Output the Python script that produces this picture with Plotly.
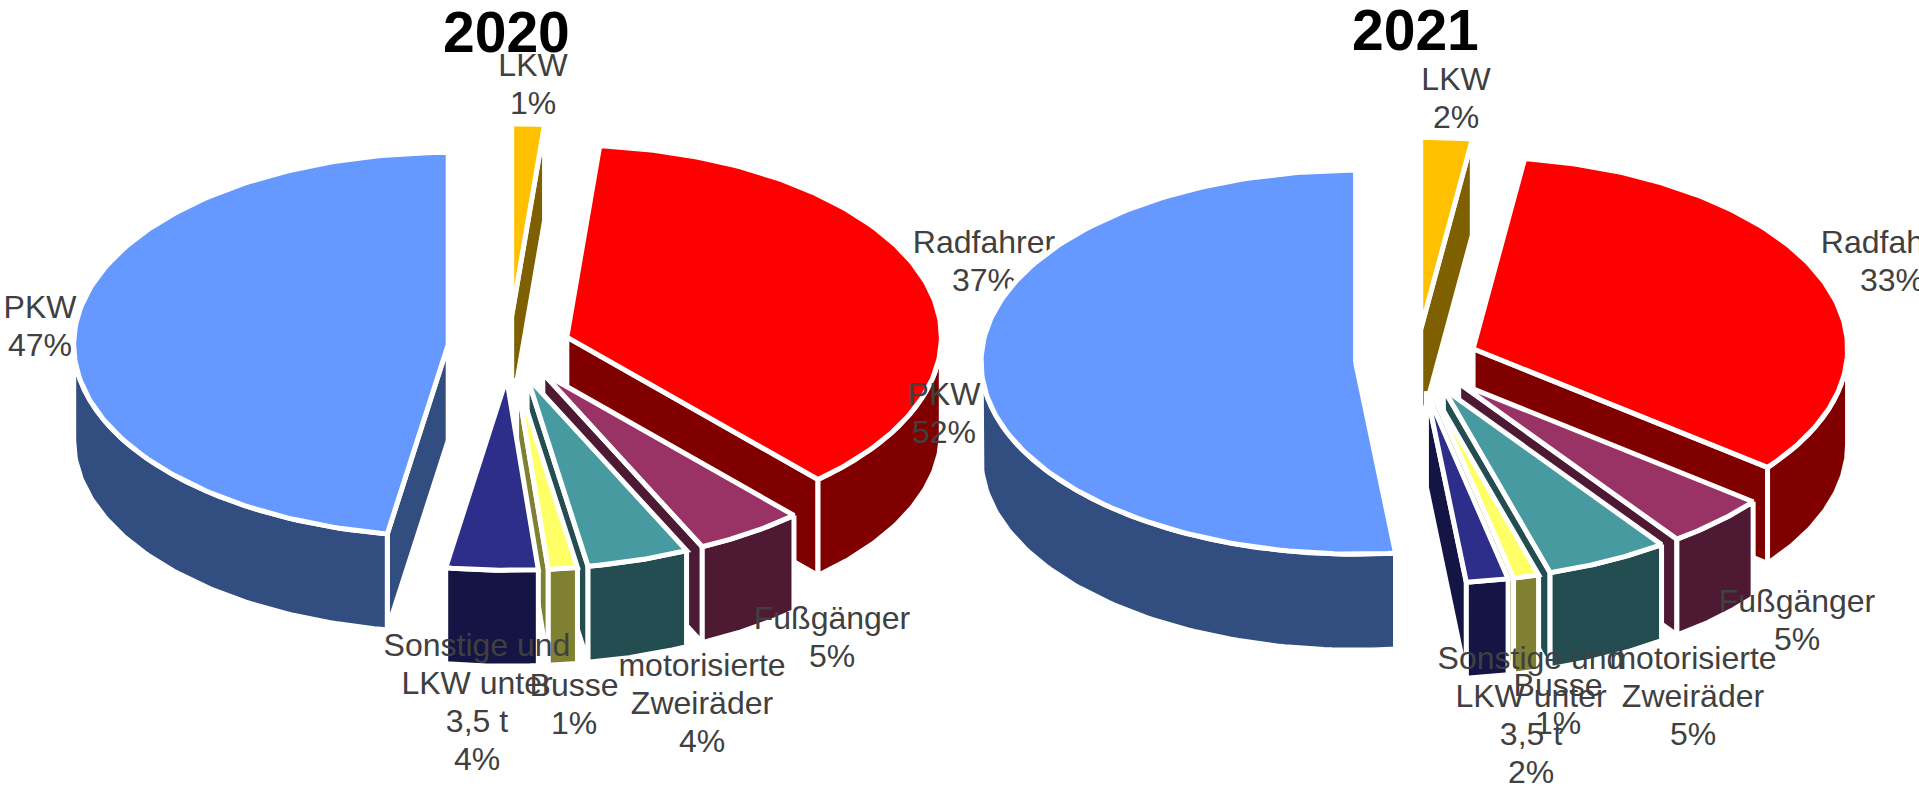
import numpy as np
import plotly.graph_objects as go

CATEGORIES = ["LKW", "Radfahrer", "Fußgänger", "motorisierte\nZweiräder", "Busse", "Sonstige und\nLKW unter\n3,5 t", "PKW"]
SHARES_2020 = [1.4, 36.9, 4.7, 4.4, 1.25, 3.95, 47.4]
SHARES_2021 = [2.2, 33.4, 4.5, 5.3, 1.1, 1.8, 51.7]
SHOWN_2020 = ["1%", "37%", "5%", "4%", "1%", "4%", "47%"]
SHOWN_2021 = ["2%", "33%", "5%", "5%", "1%", "2%", "52%"]

TOP_COLORS = ["#FFC000", "#FF0000", "#993366", "#469AA0", "#FFFF66", "#2D2D8A", "#6699FF"]
SIDE_COLORS = ["#7F6000", "#800000", "#4D1933", "#234D50", "#808033", "#141445", "#324D80"]
DRAW_ORDER = [0, 1, 6, 2, 3, 4, 5]

RX, RY, DEPTH, PULL = 374.5, 192, 96, 61
CENTER_2020 = (509, 347)
CENTER_2021 = (1416.5, 360.5)
LABEL_XY_2020 = [(533, 68), (984, 245), (832, 621), (702, 668), (574, 688), (477, 648), (40, 310)]
LABEL_XY_2021 = [(1456, 82), (1892, 245), (1797, 604), (1693, 661), (1558, 688), (1531, 661), (944, 397)]
LINE_GAP = 38
BORDER = 5
FONT = "Liberation Sans, Arial, sans-serif"

fig = go.Figure()


def poly(xs, ys, color):
    fig.add_trace(go.Scatter(
        x=list(xs) + [xs[0]], y=list(ys) + [ys[0]], mode="lines", fill="toself",
        fillcolor=color, line=dict(color="white", width=BORDER, shape="linear"),
        hoverinfo="skip", showlegend=False))


def draw_pie(shares, shown, center, label_xy):
    s = np.array(shares, dtype=float)
    edges = np.concatenate([[0], np.cumsum(s) / s.sum() * 360])
    cx, cy = center
    for i in DRAW_ORDER:
        a, b = edges[i], edges[i + 1]
        mid = np.radians((a + b) / 2)
        ax = cx + PULL * np.sin(mid)
        ay = cy - PULL * RY / RX * np.cos(mid)

        def pt(deg):
            r = np.radians(deg)
            return ax + RX * np.sin(r), ay - RY * np.cos(r)

        # cut walls that face the viewer
        if 0 < a % 360 and np.sin(np.radians(a)) < 0:
            ox, oy = pt(a)
            poly([ax, ox, ox, ax], [ay, oy, oy + DEPTH, ay + DEPTH], SIDE_COLORS[i])
        if np.sin(np.radians(b)) > 1e-6:
            ox, oy = pt(b)
            poly([ax, ox, ox, ax], [ay, oy, oy + DEPTH, ay + DEPTH], SIDE_COLORS[i])
        # outer wall
        lo, hi = max(a, 90), min(b, 270)
        if hi > lo:
            t = np.linspace(lo, hi, 80)
            ox, oy = pt(t)
            poly(np.r_[ox, ox[::-1]], np.r_[oy, oy[::-1] + DEPTH], SIDE_COLORS[i])
        # top face
        t = np.linspace(a, b, 160)
        ox, oy = pt(t)
        poly(np.r_[ax, ox], np.r_[ay, oy], TOP_COLORS[i])

    tx, ty, tt = [], [], []
    for name, pct, (lx, ly) in zip(CATEGORIES, shown, label_xy):
        for k, line in enumerate(name.split("\n") + [pct]):
            tx.append(lx)
            ty.append(ly + k * LINE_GAP)
            tt.append(line)
    fig.add_trace(go.Scatter(
        x=tx, y=ty, text=tt, mode="text", textposition="middle center",
        textfont=dict(family=FONT, size=32, color="#404040"),
        cliponaxis=False, hoverinfo="skip", showlegend=False))


draw_pie(SHARES_2020, SHOWN_2020, CENTER_2020, LABEL_XY_2020)
draw_pie(SHARES_2021, SHOWN_2021, CENTER_2021, LABEL_XY_2021)

for year, x, y in [("2020", 506, 32), ("2021", 1415, 30)]:
    fig.add_annotation(x=x, y=y, text=f"<b>{year}</b>", showarrow=False, xanchor="center", yanchor="middle",
                       font=dict(family=FONT, size=57, color="black"))

fig.update_layout(
    width=1919, height=788, margin=dict(l=0, r=0, t=0, b=0),
    paper_bgcolor="white", plot_bgcolor="white", showlegend=False,
    xaxis=dict(range=[0, 1919], visible=False, fixedrange=True),
    yaxis=dict(range=[788, 0], visible=False, fixedrange=True),
)
fig.write_html("out.html", config={"displayModeBar": False},
               post_script="document.body.style.margin='0';document.body.style.overflow='hidden';")
